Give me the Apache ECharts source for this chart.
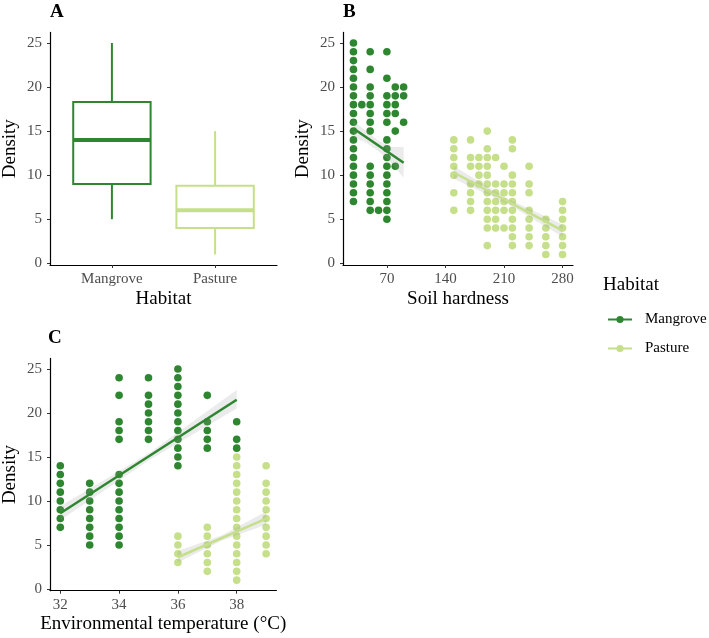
<!DOCTYPE html>
<html>
<head>
<meta charset="utf-8">
<title>Density by habitat</title>
<script src="https://cdn.jsdelivr.net/npm/echarts@6/dist/echarts.min.js"></script>
<style>
  html, body { margin: 0; padding: 0; background: #fff; }
  #chart { width: 709px; height: 638px; }
</style>
</head>
<body>
<div id="chart"></div>
<script>
const habitats = ["Mangrove", "Pasture"];
const colors = ["#2e8630", "#c5df8a"];
const serif = '"Liberation Serif", "DejaVu Serif", serif';

// A: boxplot stats [min, Q1, median, Q3, max]
const boxMangrove = [5, 9, 14, 18.3, 25];
const boxPasture = [1, 4, 6, 8.8, 15];

// B: density against soil hardness (columns of points)
const hardnessMangrove = [30, 40, 50, 60, 70, 80, 90];
const hardnessMangroveDensity = [
  [7, 8, 9, 10, 11, 12, 13, 14, 15, 16, 17, 18, 19, 20, 21, 22, 23, 24, 25],
  [18],
  [6, 7, 8, 9, 10, 11, 15, 16, 17, 18, 19, 20, 22, 24],
  [6],
  [5, 6, 7, 8, 9, 10, 11, 12, 13, 14, 16, 17, 18, 19, 21, 24],
  [11, 15, 17, 18, 19, 20],
  [16, 19, 20]
];
const hardnessPasture = [150, 170, 180, 190, 200, 210, 220, 240, 260, 280];
const hardnessPastureDensity = [
  [6, 8, 10, 11, 12, 13, 14],
  [6, 7, 8, 9, 11, 12, 14],
  [9, 10, 11, 12],
  [2, 4, 5, 6, 7, 8, 9, 10, 11, 12, 13, 15],
  [4, 5, 6, 7, 8, 9, 12],
  [4, 6, 7, 8, 9, 11],
  [2, 3, 4, 5, 6, 7, 8, 9, 10, 13, 14],
  [2, 3, 4, 5, 6, 8, 9, 11],
  [1, 2, 3, 4, 5],
  [1, 2, 3, 4, 5, 6, 7]
];
const hardnessFitX = { Mangrove: [30, 90], Pasture: [150, 280] };
const hardnessFitY = { Mangrove: [15.3, 11.4], Pasture: [10.3, 3.7] };
const hardnessBandX = { Mangrove: [30, 45, 60, 75, 90], Pasture: [150, 215, 280] };
const hardnessBandLo = { Mangrove: [14.3, 13.7, 12.7, 11.4, 9.7], Pasture: [9.6, 6.7, 3.0] };
const hardnessBandHi = { Mangrove: [16.2, 15.0, 13.9, 13.2, 13.2], Pasture: [11.0, 7.3, 4.4] };

// C: density against environmental temperature
const tempMangrove = [32, 33, 34, 35, 36, 37, 38];
const tempMangroveDensity = [
  [7, 8, 9, 10, 11, 12, 13, 14],
  [5, 6, 7, 8, 9, 10, 11, 12],
  [5, 6, 7, 8, 9, 10, 11, 12, 13, 17, 18, 19, 22, 24],
  [17, 18, 19, 20, 21, 22, 24],
  [14, 15, 16, 17, 18, 19, 20, 21, 22, 23, 24, 25],
  [16, 17, 18, 19, 22],
  [16, 17, 19]
];
const tempPasture = [36, 37, 38, 39];
const tempPastureDensity = [
  [3, 4, 5, 6],
  [2, 3, 4, 5, 6, 7],
  [1, 2, 3, 4, 5, 6, 7, 8, 9, 10, 11, 12, 13, 14, 15],
  [4, 5, 6, 7, 8, 9, 10, 11, 12, 14]
];
const tempFitX = { Mangrove: [32, 38], Pasture: [36, 39] };
const tempFitY = { Mangrove: [8.6, 21.5], Pasture: [3.6, 8.0] };
const tempBandX = { Mangrove: [32, 35, 38], Pasture: [36, 37.5, 39] };
const tempBandLo = { Mangrove: [7.8, 14.6, 20.5], Pasture: [3.0, 5.5, 7.3] };
const tempBandHi = { Mangrove: [9.4, 15.4, 22.6], Pasture: [4.3, 6.1, 8.8] };

const densityTicks = [0, 5, 10, 15, 20, 25];
const hardnessTicks = [70, 140, 210, 280];
const tempTicks = [32, 34, 36, 38];

function columnsToPoints(xs, cols) {
  const pts = [];
  xs.forEach((x, i) => cols[i].forEach((y) => pts.push([x, y])));
  return pts;
}

function axisBase(gridIndex, ticks, name, gap) {
  return {
    type: "value",
    gridIndex: gridIndex,
    name: name,
    nameLocation: "middle",
    nameGap: gap,
    nameTextStyle: { fontFamily: serif, fontSize: 19, color: "#000" },
    axisLine: { show: true, onZero: false, lineStyle: { color: "#000", width: 1.2 } },
    axisTick: { show: true, length: 3, customValues: ticks, lineStyle: { color: "#333", width: 1 } },
    axisLabel: { customValues: ticks, margin: 7, fontFamily: serif, fontSize: 15, color: "#4d4d4d" },
    splitLine: { show: false }
  };
}

function densityAxis(gridIndex) {
  const a = axisBase(gridIndex, densityTicks, "Density", 30);
  a.min = -0.2;
  a.max = 26.2;
  a.axisLabel.margin = 8;
  return a;
}

const xA = axisBase(0, [1, 2], "Habitat", 25);
xA.min = 0.4;
xA.max = 2.6;
xA.axisLabel.formatter = (v) => habitats[Math.round(v) - 1];

const xB = axisBase(1, hardnessTicks, "Soil hardness", 25);
xB.min = 17.5;
xB.max = 292.5;

const xC = axisBase(2, tempTicks, "Environmental temperature (°C)", 24);
xC.min = 31.65;
xC.max = 39.35;

function boxSeries(name, stats, pos, color) {
  return {
    name: name + " box",
    type: "custom",
    xAxisIndex: 0,
    yAxisIndex: 0,
    data: [[pos].concat(stats)],
    encode: { x: 0, y: [1, 2, 3, 4, 5] },
    renderItem: function (params, api) {
      const x = api.value(0);
      const half = 0.375;
      const lo = api.coord([x, api.value(1)]);
      const q1 = api.coord([x - half, api.value(2)]);
      const q3 = api.coord([x + half, api.value(4)]);
      const hi = api.coord([x, api.value(5)]);
      const medL = api.coord([x - half, api.value(3)]);
      const medR = api.coord([x + half, api.value(3)]);
      const q1c = api.coord([x, api.value(2)]);
      const q3c = api.coord([x, api.value(4)]);
      const line = { stroke: color, lineWidth: 2, fill: null };
      return {
        type: "group",
        children: [
          { type: "line", shape: { x1: lo[0], y1: lo[1], x2: q1c[0], y2: q1c[1] }, style: line },
          { type: "line", shape: { x1: q3c[0], y1: q3c[1], x2: hi[0], y2: hi[1] }, style: line },
          { type: "rect", shape: { x: q1[0], y: q3[1], width: q3[0] - q1[0], height: q1[1] - q3[1] }, style: { stroke: color, lineWidth: 2, fill: "#fff" } },
          { type: "line", shape: { x1: medL[0], y1: medL[1], x2: medR[0], y2: medR[1] }, style: { stroke: color, lineWidth: 4 } }
        ]
      };
    }
  };
}

function bandSeries(name, idx, xs, lo, hi) {
  const rows = xs.map((x, i) => [x, lo[i], hi[i]]);
  return {
    name: name + " band",
    type: "custom",
    xAxisIndex: idx,
    yAxisIndex: idx,
    z: 3,
    data: [rows[0]],
    renderItem: function (params, api) {
      const top = rows.map((r) => api.coord([r[0], r[2]]));
      const bottom = rows.slice().reverse().map((r) => api.coord([r[0], r[1]]));
      return {
        type: "polygon",
        shape: { points: top.concat(bottom) },
        style: { fill: "rgba(153,153,153,0.2)", stroke: null }
      };
    }
  };
}

function fitSeries(name, idx, xs, ys, color) {
  return {
    name: name,
    type: "line",
    xAxisIndex: idx,
    yAxisIndex: idx,
    z: 4,
    symbol: "circle",
    showSymbol: false,
    silent: true,
    data: xs.map((x, i) => [x, ys[i]]),
    lineStyle: { color: color, width: 2.5 },
    itemStyle: { color: color }
  };
}

function dotSeries(name, idx, pts, color) {
  return {
    name: name,
    type: "scatter",
    xAxisIndex: idx,
    yAxisIndex: idx,
    symbolSize: 7.6,
    data: pts,
    itemStyle: { color: color, opacity: 1 }
  };
}

const chart = echarts.init(document.getElementById("chart"), null, { renderer: "canvas" });

chart.setOption({
  animation: false,
  backgroundColor: "#fff",
  textStyle: { fontFamily: serif },
  grid: [
    { left: 48, top: 32.4, width: 229, height: 232.6 },
    { left: 343, top: 32.4, width: 230, height: 232.6 },
    { left: 48, top: 358.4, width: 228.4, height: 232.3 }
  ],
  xAxis: [xA, xB, xC],
  yAxis: [densityAxis(0), densityAxis(1), densityAxis(2)],
  legend: {
    orient: "vertical",
    left: 607,
    top: 312,
    padding: 0,
    data: habitats,
    selectedMode: false,
    itemWidth: 24,
    itemHeight: 9,
    itemGap: 14,
    textStyle: { fontFamily: serif, fontSize: 15, color: "#000", padding: [0, 0, 0, 8] }
  },
  graphic: [
    { type: "text", left: 50, top: 3, style: { text: "A", font: 'bold 19px "Liberation Serif"', fill: "#000" } },
    { type: "text", left: 343, top: 3, style: { text: "B", font: 'bold 19px "Liberation Serif"', fill: "#000" } },
    { type: "text", left: 48, top: 329, style: { text: "C", font: 'bold 19px "Liberation Serif"', fill: "#000" } },
    { type: "text", left: 603, top: 276, style: { text: "Habitat", font: '19px "Liberation Serif"', fill: "#000" } }
  ],
  series: [
    fitSeries("Mangrove", 1, hardnessFitX.Mangrove, hardnessFitY.Mangrove, colors[0]),
    fitSeries("Pasture", 1, hardnessFitX.Pasture, hardnessFitY.Pasture, colors[1]),
    fitSeries("Mangrove", 2, tempFitX.Mangrove, tempFitY.Mangrove, colors[0]),
    fitSeries("Pasture", 2, tempFitX.Pasture, tempFitY.Pasture, colors[1]),
    boxSeries("Mangrove", boxMangrove, 1, colors[0]),
    boxSeries("Pasture", boxPasture, 2, colors[1]),
    dotSeries("Mangrove", 1, columnsToPoints(hardnessMangrove, hardnessMangroveDensity), colors[0]),
    dotSeries("Pasture", 1, columnsToPoints(hardnessPasture, hardnessPastureDensity), colors[1]),
    dotSeries("Mangrove", 2, columnsToPoints(tempMangrove, tempMangroveDensity), colors[0]),
    dotSeries("Pasture", 2, columnsToPoints(tempPasture, tempPastureDensity), colors[1]),
    bandSeries("Mangrove", 1, hardnessBandX.Mangrove, hardnessBandLo.Mangrove, hardnessBandHi.Mangrove),
    bandSeries("Pasture", 1, hardnessBandX.Pasture, hardnessBandLo.Pasture, hardnessBandHi.Pasture),
    bandSeries("Mangrove", 2, tempBandX.Mangrove, tempBandLo.Mangrove, tempBandHi.Mangrove),
    bandSeries("Pasture", 2, tempBandX.Pasture, tempBandLo.Pasture, tempBandHi.Pasture)
  ]
});
</script>
</body>
</html>
